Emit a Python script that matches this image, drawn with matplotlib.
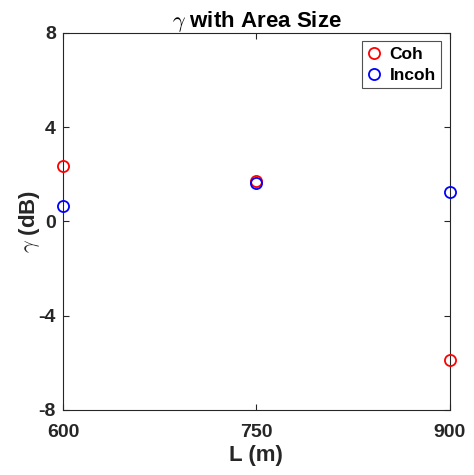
# gamma vs area size, coherent vs incoherent
import matplotlib.pyplot as plt

plt.rcParams['font.family'] = ['Liberation Sans', 'DejaVu Sans']
plt.rcParams['font.weight'] = 'bold'
plt.rcParams['mathtext.fontset'] = 'cm'
plt.rcParams['axes.unicode_minus'] = False

L = [600, 750, 900]                  # area size (m)
gamma_coh = [2.35, 1.72, -5.9]       # dB
gamma_incoh = [0.65, 1.62, 1.23]     # dB

fig = plt.figure(figsize=(4.74, 4.75), dpi=100)
ax = fig.add_axes([0.133, 0.137, 0.816, 0.794])

ax.plot(L, gamma_coh, 'o', mfc='none', mec='red', mew=1.3, ms=8,
        label='Coh', clip_on=False, zorder=5)
ax.plot(L, gamma_incoh, 'o', mfc='none', mec='blue', mew=1.3, ms=8,
        label='Incoh', clip_on=False, zorder=5)

ax.set_xlim(600, 900)
ax.set_ylim(-8, 8)
ax.set_xticks(L)
ax.set_yticks([-8, -4, 0, 4, 8])
ax.tick_params(direction='in', length=4, width=0.8, color='#262626',
               labelsize=14, labelcolor='#262626',
               top=True, right=True)
ax.tick_params(axis='x', pad=10)
ax.tick_params(axis='y', pad=5)
for s in ax.spines.values():
    s.set_color('#262626')
    s.set_linewidth(0.8)

ax.set_xlabel('L (m)', fontsize=16, fontweight='bold', color='#262626', labelpad=3)
ax.set_ylabel(r'$\gamma$ (dB)', fontsize=16, fontweight='bold', color='#262626', labelpad=-2)
ax.set_title(r'$\gamma$ with Area Size', fontsize=16, fontweight='bold', pad=4)

leg = ax.legend(loc='upper right', fontsize=12.5, frameon=True, fancybox=False,
                edgecolor='#262626', handlelength=0.8, handletextpad=0.5,
                borderpad=0.3, labelspacing=0.35, borderaxespad=0.5)
leg.get_frame().set_linewidth(0.8)

fig.savefig('out.png', dpi=100)
